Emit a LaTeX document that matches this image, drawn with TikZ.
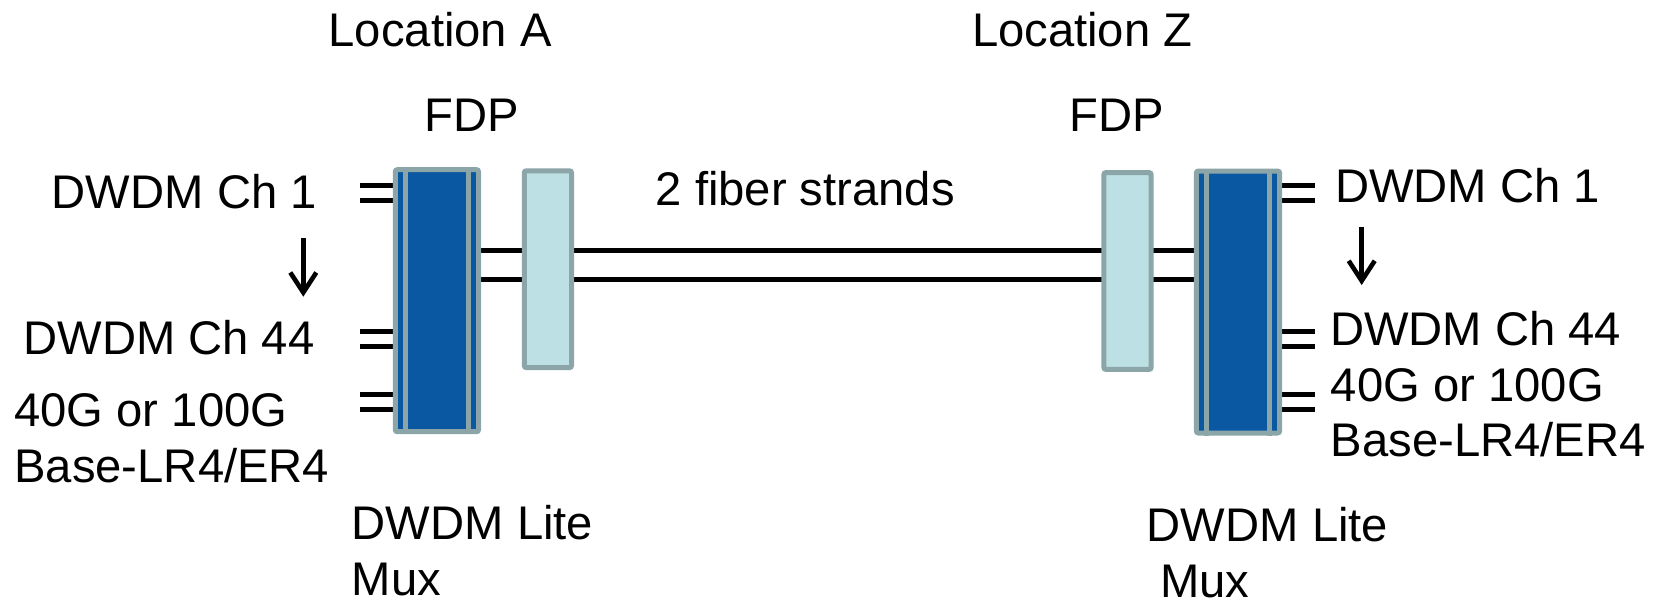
\documentclass[tikz,border=0pt]{standalone}
\usepackage{fontspec}
\setmainfont{Liberation Sans}
\usetikzlibrary{backgrounds,arrows.meta}
\definecolor{muxblue}{RGB}{10,88,162}
\definecolor{boxedge}{RGB}{140,165,168}
\definecolor{fdpcyan}{RGB}{188,224,228}

\begin{document}
\begin{tikzpicture}[x=0.5pt,y=-0.5pt,font=\fontsize{23.6}{27.75}\selectfont,
txt/.style={anchor=base west, inner sep=0pt, align=left},
mux/.style={draw=boxedge, fill=muxblue, line width=2.5pt, rounded corners=1pt,
    minimum width=41.6pt, minimum height=131pt, inner sep=0pt},
fdp/.style={draw=boxedge, fill=fdpcyan, line width=2.5pt, rounded corners=1pt,
    minimum width=23.6pt, minimum height=98.4pt, inner sep=0pt},
fiber/.style={line width=2.5pt},
down/.style={line width=2.3pt, -{Straight Barb[length=10pt, width=13pt, line width=2.3pt]}}]
\useasboundingbox (0,0) rectangle (1660,601);
% boxes
\node[mux] (muxA) at (436.9,300.7) {};
\node[mux] (muxZ) at (1238,302) {};
\node[fdp] (fdpA) at (547.9,269.2) {};
\node[fdp] (fdpZ) at (1127.5,271) {};
\foreach \m in {muxA,muxZ}
  \draw[boxedge, line width=2.5pt] ([xshift=-15.75pt]\m.north) -- ([xshift=-15.75pt]\m.south)
    ([xshift=15.75pt]\m.north) -- ([xshift=15.75pt]\m.south);
% fibers and ports
\begin{scope}[on background layer]
\foreach \y in {250.7,279.7}
  \draw[fiber] (muxA.east |- 0,\y) -- (muxZ.west |- 0,\y);
\foreach \y in {185,200.3,331.3,346.7,394,409}{
  \draw[fiber] (muxA.west |- 0,\y) -- ++(-32.5,0);
  \draw[fiber] (muxZ.east |- 0,\y) -- ++(32.5,0);}
\end{scope}
% channel arrows
\coordinate (arrA1) at (303.3,238.3); \coordinate (arrA2) at (303.3,296.7);
\coordinate (arrZ1) at (1361.7,226.7); \coordinate (arrZ2) at (1361.7,285);
\draw[down] (arrA1) -- (arrA2);
\draw[down] (arrZ1) -- (arrZ2);
% labels (base = last line)
\node[txt] (locA) at (328.3,46.7) {Location A};
\node[txt] (locZ) at (971.6,46.7) {Location Z};
\node[txt] (fdpAtxt) at (424.5,131.7) {FDP};
\node[txt] (fdpZtxt) at (1069.5,131.7) {FDP};
\node[txt] (strands) at (655.3,205) {2 fiber strands};
\node[txt] (ch1A) at (51.5,208.3) {DWDM Ch 1};
\node[txt] (ch44A) at (23,354) {DWDM Ch 44};
\node[txt] (lrA) at (14,482) {40G or 100G\\Base-LR4/ER4};
\node[txt] (liteA) at (351.5,595) {DWDM Lite\\Mux};
\node[txt] (ch1Z) at (1334.7,202.3) {DWDM Ch 1};
\node[txt] (ch44Z) at (1329.7,345) {DWDM Ch 44};
\node[txt] (lrZ) at (1330.5,456.7) {40G or 100G\\Base-LR4/ER4};
\node[txt] (liteZ) at (1146.5,597) {DWDM Lite\\~Mux};
\end{tikzpicture}
\end{document}
